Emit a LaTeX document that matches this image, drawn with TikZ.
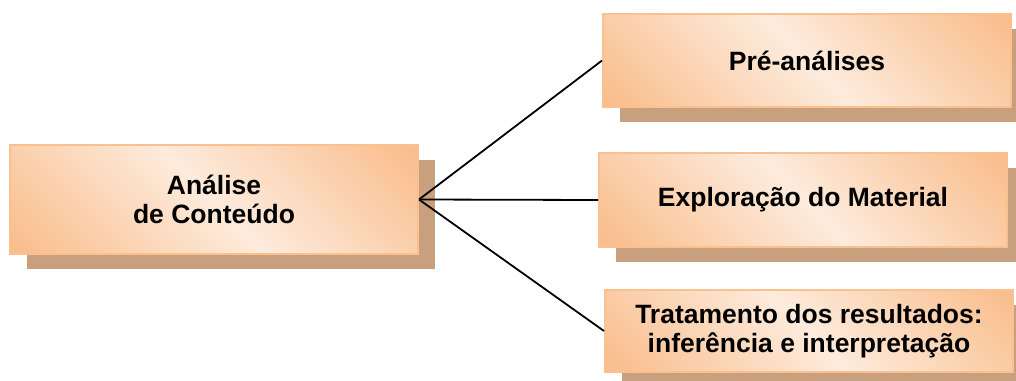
\documentclass[tikz,border=0pt]{standalone}
\usepackage{fontspec}
\setmainfont{Liberation Sans}
\usetikzlibrary{shadows}
\definecolor{boxorange}{HTML}{F9BE8C}
\definecolor{boxlight}{HTML}{FDEBDC}
\definecolor{boxborder}{HTML}{FAC08F}
\definecolor{shadowc}{HTML}{C9A07E}
\pgfdeclarehorizontalshading{boxshade}{100bp}{color(0bp)=(boxorange); color(16bp)=(boxorange); color(50bp)=(boxlight); color(84bp)=(boxorange); color(100bp)=(boxorange)}
\begin{document}
\begin{tikzpicture}[x=1pt,y=-1pt,
  box/.style={draw=boxborder, line width=2pt, shading=boxshade, shading angle=45,
    minimum width=408pt, inner sep=0pt, align=center,
    font=\fontsize{26.5}{29}\selectfont\bfseries,
    drop shadow={shadow xshift=17pt, shadow yshift=-15pt, fill=shadowc, opacity=1, draw=none}},
  link/.style={line width=1.8pt, black}]
\useasboundingbox (0,0) rectangle (1016,380);
\node[box, minimum height=109pt] (ac) at (214,199.5) {Análise\\de Conteúdo};
\node[box, minimum height=93pt] (pre) at (807,60.5) {Pré-análises};
\node[box, minimum height=94pt] (exp) at (803,200) {Exploração do Material};
\node[box, minimum height=82pt] (tra) at (809,331) {Tratamento dos resultados:\\inferência e interpretação};
\draw[link] (ac.east) -- (pre.west);
\draw[link] (ac.east) -- (exp.west);
\draw[link] (ac.east) -- (tra.west);
\end{tikzpicture}
\end{document}
